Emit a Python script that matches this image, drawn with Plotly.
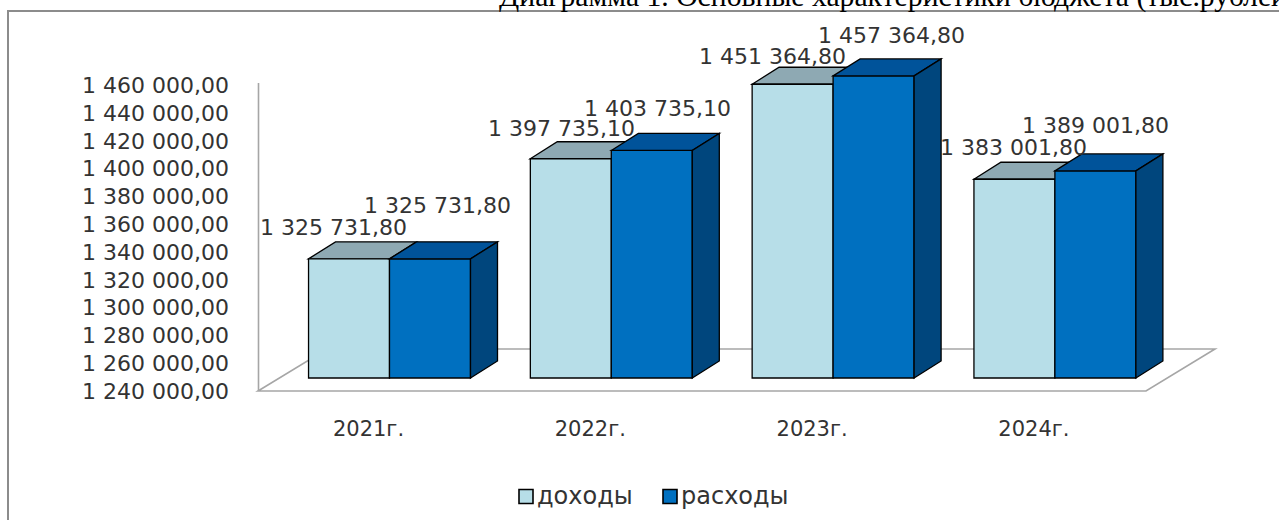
import plotly.graph_objects as go

# ---- data ----
categories = ["2021г.", "2022г.", "2023г.", "2024г."]
income = [1325731.80, 1397735.10, 1451364.80, 1383001.80]     # доходы
expense = [1325731.80, 1403735.10, 1457364.80, 1389001.80]    # расходы
series_names = ["доходы", "расходы"]
y_tickvals = [1240000 + 20000 * i for i in range(12)]
title_text = "Диаграмма 1. Основные характеристики бюджета (тыс.рублей)"

BASE = 1240000.0

# ---- label nudges (px), like the source's placement ----
inc_lx = [-15.5, -9.5, -20.5, -1]
inc_ly = [31, 30, 28, 32]
exp_lx = [7.5, 6, 18, 0]
exp_ly = [53, 42, 40, 45]

def fmt(v):
    s = f"{v:,.2f}"
    intpart, dec = s.split(".")
    return intpart.replace(",", " ") + "," + dec

# ---- geometry (pixels) ----
W, H = 1279, 520
L, R, T, B = 250, 1279 - 1240, 20, 120
PX_PER_CAT = 221.8
CAT0_PX = 389.5
BASE_PX = 378
UNITS_PER_PX = 719.5

def xd(px):
    return (px - CAT0_PX) / PX_PER_CAT

def yd(py):
    return BASE + (BASE_PX - py) * UNITS_PER_PX

def px_paper(px):
    return (px - L) / (W - L - R)

def py_paper(py):
    return (H - B - py) / (H - T - B)

xr = [xd(L), xd(W - R)]
yr = [yd(H - B), yd(T)]

BAR_W = 81 / PX_PER_CAT
DX = 27 / PX_PER_CAT
DY = 17 * UNITS_PER_PX

C_INC = "#B7DEE8"
C_INC_TOP = "#8EA9B3"
C_EXP = "#0070C0"
C_EXP_TOP = "#00539A"
C_EXP_SIDE = "#00467D"
FONT = "DejaVu Sans"
TXT = "#333333"
colors = [C_INC, C_EXP]

fig = go.Figure()
fig.add_trace(go.Bar(x=categories, y=[v - BASE for v in income], base=BASE,
                     name=series_names[0], marker=dict(color=C_INC, line=dict(color="black", width=1.3)),
                     hoverinfo="skip", showlegend=False))
fig.add_trace(go.Bar(x=categories, y=[v - BASE for v in expense], base=BASE,
                     name=series_names[1], marker=dict(color=C_EXP, line=dict(color="black", width=1.3)),
                     hoverinfo="skip", showlegend=False))

shapes = []
# floor
fl = [(258, 391), (1146, 391), (1215, 349), (327, 349)]
path = "M " + " L ".join(f"{xd(a)},{yd(b)}" for a, b in fl) + " Z"
shapes.append(dict(type="path", path=path, xref="x", yref="y", layer="below",
                   fillcolor="white", line=dict(color="#A6A6A6", width=1.6)))
# wall edge
shapes.append(dict(type="line", xref="x", yref="y", x0=xd(258.5), x1=xd(258.5), y0=yd(83), y1=yd(391),
                   layer="below", line=dict(color="#A6A6A6", width=1.6)))

def poly(pts):
    return "M " + " L ".join(f"{a},{b}" for a, b in pts) + " Z"

for i, cat in enumerate(categories):
    x0 = i - BAR_W
    x1 = i
    x2 = i + BAR_W
    vi = income[i]
    ve = expense[i]
    shapes.append(dict(type="path", xref="x", yref="y", layer="below",
                       path=poly([(x0, vi), (x0 + DX, vi + DY), (x1 + DX, vi + DY), (x1, vi)]),
                       fillcolor=C_INC_TOP, line=dict(color="black", width=1.3)))
    shapes.append(dict(type="path", xref="x", yref="y", layer="above",
                       path=poly([(x1, ve), (x1 + DX, ve + DY), (x2 + DX, ve + DY), (x2, ve)]),
                       fillcolor=C_EXP_TOP, line=dict(color="black", width=1.3)))
    shapes.append(dict(type="path", xref="x", yref="y", layer="above",
                       path=poly([(x2, BASE), (x2 + DX, BASE + DY), (x2 + DX, ve + DY), (x2, ve)]),
                       fillcolor=C_EXP_SIDE, line=dict(color="black", width=1.3)))

# outer border
shapes.append(dict(type="rect", xref="paper", yref="paper",
                   x0=px_paper(8), x1=px_paper(1300), y0=py_paper(11), y1=py_paper(560),
                   line=dict(color="#8C8C8C", width=2), fillcolor="rgba(0,0,0,0)"))

annotations = []
half = 40.5
for i, cat in enumerate(categories):
    annotations.append(dict(x=cat, y=income[i], xref="x", yref="y", text=fmt(income[i]),
                            showarrow=False, xanchor="center", yanchor="middle",
                            xshift=-half + inc_lx[i], yshift=inc_ly[i],
                            font=dict(family=FONT, size=22, color=TXT)))
    annotations.append(dict(x=cat, y=expense[i], xref="x", yref="y", text=fmt(expense[i]),
                            showarrow=False, xanchor="center", yanchor="middle",
                            xshift=half + exp_lx[i], yshift=exp_ly[i],
                            font=dict(family=FONT, size=22, color=TXT)))

annotations.append(dict(x=px_paper(497), y=py_paper(-3.5), xref="paper", yref="paper",
                        text=title_text, showarrow=False, xanchor="left", yanchor="middle",
                        font=dict(family="Liberation Serif", size=29.7, color="black")))

# legend (square swatch + label)
leg_sq_px = [519, 663]
leg_y = 496.5
for k, name in enumerate(series_names):
    sx = leg_sq_px[k]
    shapes.append(dict(type="rect", xref="paper", yref="paper",
                       x0=px_paper(sx), x1=px_paper(sx + 14),
                       y0=py_paper(leg_y - 7), y1=py_paper(leg_y + 7),
                       fillcolor=colors[k], line=dict(color="black", width=1.6)))
    annotations.append(dict(x=px_paper(sx + 16), y=py_paper(leg_y - 1), xref="paper", yref="paper",
                            text=name, showarrow=False, xanchor="left", yanchor="middle",
                            font=dict(family=FONT, size=24, color=TXT)))

fig.update_layout(
    width=W, height=H,
    margin=dict(l=L, r=R, t=T, b=B, pad=0, autoexpand=False),
    paper_bgcolor="white", plot_bgcolor="white",
    barmode="group", bargap=0.27, bargroupgap=0,
    shapes=shapes, annotations=annotations,
    showlegend=False,
    xaxis=dict(range=xr, showgrid=False, zeroline=False, showline=False, ticks="",
               tickfont=dict(family=FONT, size=21, color=TXT),
               ticklabelstandoff=14, ticklabelshift=-21, fixedrange=True, automargin=False),
    yaxis=dict(range=yr, showgrid=False, zeroline=False, showline=False, ticks="",
               tickvals=y_tickvals, ticktext=[fmt(v) for v in y_tickvals],
               tickfont=dict(family=FONT, size=22, color=TXT),
               ticklabelstandoff=20, ticklabelshift=13, fixedrange=True, automargin=False),
)

fig.write_html("out.html", config={"displayModeBar": False},
               post_script="document.body.style.margin='0px';document.body.style.overflow='hidden';")
